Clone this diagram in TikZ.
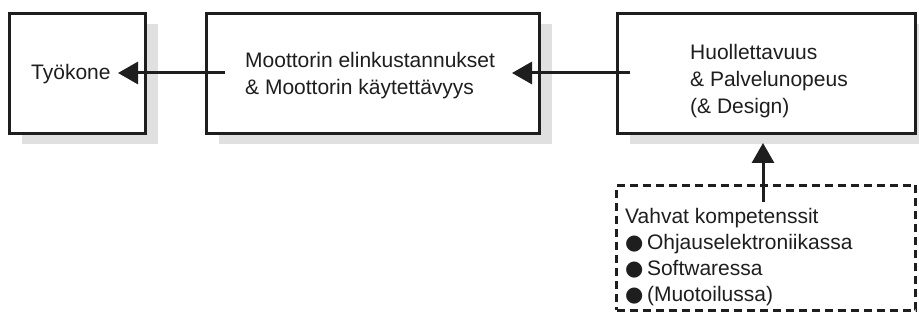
\documentclass[tikz,border=0pt]{standalone}
\usepackage{fontspec}
\setmainfont{Liberation Sans}
\newfontfamily\symfont{DejaVu Sans}
\usetikzlibrary{arrows.meta,shadows}
\definecolor{ink}{HTML}{1E1E1E}
\begin{document}
\begin{tikzpicture}[x=1pt,y=-1pt,
  box/.style={draw=ink,line width=3.2pt,fill=white,inner sep=0pt,
    drop shadow={shadow xshift=12pt,shadow yshift=-11pt,fill=black!12,opacity=1}},
  dbox/.style={draw=ink,line width=2.8pt,dash pattern=on 8pt off 5pt,inner sep=0pt},
  txt/.style={anchor=west,align=left,inner sep=0pt,text=ink,font=\fontsize{21}{27}\selectfont},
  conn/.style={draw=ink,line width=3pt,-{Triangle[length=20pt,width=22pt]}}]
\useasboundingbox (0,0) rectangle (919,323);
% boxes
\node[box,minimum width=136pt,minimum height=120pt] (b1) at (77.5,73.5) {};
\node[box,minimum width=333pt,minimum height=120pt] (b2) at (373,73.5) {};
\node[box,minimum width=298pt,minimum height=120pt] (b3) at (766.5,73.5) {};
\node[dbox,minimum width=299pt,minimum height=125pt] (b4) at (766,248) {};
% texts
\node[txt] (t1) at (31,74) {Työkone};
\node[txt] (t2) at (245,76) {Moottorin elinkustannukset\\\& Moottorin käytettävyys};
\node[txt] (t3) at (690,81) {Huollettavuus\\\& Palvelunopeus\\(\& Design)};
\node[txt,font=\fontsize{21}{26}\selectfont] (t4) at (625,257) {Vahvat kompetenssit\\{\symfont ●}\,Ohjauselektroniikassa\\{\symfont ●}\,Softwaressa\\{\symfont ●}\,(Muotoilussa)};
% connector ends
\coordinate (a1s) at (225,73);
\coordinate (a1e) at (118,73);
\coordinate (a2s) at (630,73);
\coordinate (a2e) at (512,73);
\coordinate (a3s) at (763,202);
\coordinate (a3e) at (763,143);
\draw[conn] (a1s) -- (a1e);
\draw[conn] (a2s) -- (a2e);
\draw[conn] (a3s) -- (a3e);
\end{tikzpicture}
\end{document}
